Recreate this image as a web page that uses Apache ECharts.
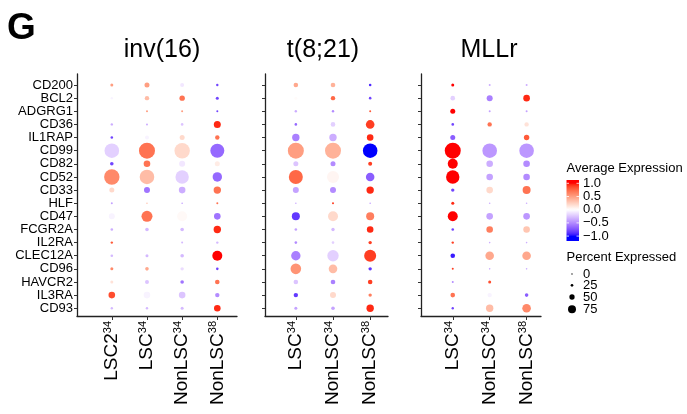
<!DOCTYPE html>
<html><head><meta charset="utf-8">
<script src="https://cdn.jsdelivr.net/npm/echarts@6/dist/echarts.min.js"></script>
<style>html,body{margin:0;padding:0;background:#fff}#c{width:687px;height:414px}</style>
</head><body><div id="c"></div>
<script>
// ---------- DATA ----------
const genes = ['CD200','BCL2','ADGRG1','CD36','IL1RAP','CD99','CD82','CD52','CD33','HLF','CD47','FCGR2A','IL2RA','CLEC12A','CD96','HAVCR2','IL3RA','CD93'];
const panelTitles = ['inv(16)', 't(8;21)', 'MLLr'];

const inv16Groups = [['LSC2','34'],['LSC','34'],['NonLSC','34'],['NonLSC','38']];
const t821Groups  = [['LSC','34'],['NonLSC','34'],['NonLSC','38']];
const mllrGroups  = [['LSC','34'],['NonLSC','34'],['NonLSC','38']];

// Average expression (scaled), one array per column, genes in order above
const inv16Avg = [
  [0.5,-0.05,0.0,-0.35,-0.8,-0.2,-0.8,0.6,0.2,-0.4,-0.05,-0.35,0.8,-0.3,0.6,0.15,0.85,-0.3],
  [0.5,0.35,0.5,-0.35,-0.05,0.7,0.7,0.35,-0.6,0.3,0.7,-0.3,0.0,-0.3,0.45,-0.25,-0.05,-0.3],
  [-0.1,0.7,0.5,-0.25,0.2,0.2,-0.1,-0.2,-0.35,-0.4,0.03,-0.3,-0.3,-0.3,-0.15,-0.6,-0.25,-0.3],
  [-0.8,-0.8,-0.8,0.95,0.7,-0.65,0.1,-0.65,0.7,0.7,-0.6,0.95,-0.3,1.0,-0.8,0.7,-0.5,0.95]
];
// Percent expressed
const inv16Pct = [
  [15,12,5,12,13,73,18,77,25,10,30,13,12,13,15,15,33,12],
  [25,22,10,10,20,80,33,73,30,8,55,18,3,15,18,20,33,12],
  [20,27,10,13,25,77,30,67,33,8,50,18,10,18,17,18,33,15],
  [12,15,10,35,22,70,25,47,37,10,33,37,12,50,13,23,22,33]
];

const t821Avg = [
  [0.45,0.02,-0.35,-0.65,-0.55,0.5,-0.25,0.75,-0.4,-0.35,-0.85,-0.4,-0.5,-0.55,0.55,-0.25,-0.85,-0.4],
  [0.4,0.75,-0.5,-0.2,-0.35,0.4,-0.5,0.05,-0.5,0.9,0.2,-0.3,-0.2,-0.2,0.35,-0.55,0.2,-0.4],
  [-0.9,-0.8,0.8,0.9,0.95,-1.0,0.9,-0.7,0.95,-0.4,0.65,0.95,0.9,0.9,-0.85,0.9,0.65,0.95]
];
const t821Pct = [
  [23,15,12,13,37,80,25,70,30,8,40,13,13,47,53,23,22,15],
  [23,22,12,23,37,80,25,60,30,10,50,17,13,57,43,23,30,18],
  [13,13,10,43,33,73,20,43,37,8,40,33,17,60,17,23,17,37]
];

const mllrAvg = [
  [1.0,-0.2,1.0,-0.8,-0.7,1.0,1.0,1.0,-0.8,0.95,1.0,-0.8,0.9,-0.95,0.9,-0.5,0.7,-0.8],
  [-0.35,-0.55,-0.4,0.7,0.0,-0.45,-0.35,-0.4,0.2,-0.35,-0.4,0.65,-0.35,0.45,-0.35,0.85,-0.05,0.35],
  [-0.35,0.95,-0.4,0.15,0.8,-0.45,-0.5,-0.5,0.7,-0.35,-0.45,0.3,-0.35,0.45,-0.35,0.0,-0.7,0.6]
];
const mllrPct = [
  [15,23,25,13,25,80,50,67,17,15,50,13,12,23,10,10,23,12],
  [10,30,10,22,25,73,33,33,33,8,33,33,8,43,8,15,22,37],
  [10,33,10,22,27,73,33,33,40,8,33,33,8,43,8,10,18,43]
];

const colorTicks = [1.0, 0.5, 0.0, -0.5, -1.0];
const colorTickLabels = ['1.0','0.5','0.0','\u22120.5','\u22121.0'];
const pctLegend = [0, 25, 50, 75];

// ---------- COLOR (Lab interpolation, blue - white - red) ----------
function s2l(c){c/=255;return c<=0.04045?c/12.92:Math.pow((c+0.055)/1.055,2.4);}
function l2s(c){c=c<=0.0031308?12.92*c:1.055*Math.pow(c,1/2.4)-0.055;return Math.round(Math.max(0,Math.min(1,c))*255);}
const Xn=0.95047,Yn=1,Zn=1.08883;
function ff(t){return t>0.008856?Math.cbrt(t):(7.787*t+16/116);}
function fi(t){const t3=t*t*t;return t3>0.008856?t3:(t-16/116)/7.787;}
function rgb2lab(c){const r=s2l(c[0]),g=s2l(c[1]),b=s2l(c[2]);
  const X=(0.4124*r+0.3576*g+0.1805*b)/Xn,Y=(0.2126*r+0.7152*g+0.0722*b)/Yn,Z=(0.0193*r+0.1192*g+0.9505*b)/Zn;
  const fx=ff(X),fy=ff(Y),fz=ff(Z);return [116*fy-16,500*(fx-fy),200*(fy-fz)];}
function lab2rgb(l){const fy=(l[0]+16)/116,fx=fy+l[1]/500,fz=fy-l[2]/200;
  const X=fi(fx)*Xn,Y=fi(fy)*Yn,Z=fi(fz)*Zn;
  return [l2s(3.2406*X-1.5372*Y-0.4986*Z),l2s(-0.9689*X+1.8758*Y+0.0415*Z),l2s(0.0557*X-0.2040*Y+1.0570*Z)];}
const LW=rgb2lab([255,255,255]),LB=rgb2lab([0,0,255]),LR=rgb2lab([255,0,0]);
function colorFor(v){v=Math.max(-1,Math.min(1,v));const t=Math.abs(v),T=v<0?LB:LR;
  const lab=[0,1,2].map(k=>LW[k]+t*(T[k]-LW[k]));const c=lab2rgb(lab);return 'rgb('+c.join(',')+')';}

// ---------- LAYOUT ----------
const FONT='"Liberation Sans", Arial, Helvetica, sans-serif';
const panels=[
  {groups:inv16Groups,avg:inv16Avg,pct:inv16Pct,left:77,width:160,min:-0.99,max:3.56,titleX:162},
  {groups:t821Groups,avg:t821Avg,pct:t821Pct,left:265,width:123,min:-0.83,max:2.48,titleX:323},
  {groups:mllrGroups,avg:mllrAvg,pct:mllrPct,left:421,width:120,min:-0.86,max:2.39,titleX:489}
];
const gridTop=74,gridH=242;
const geneIdx=genes.map((g,i)=>i);
const axisCol='#222';

const grid=[],xAxis=[],yAxis=[],series=[];
panels.forEach((p,pi)=>{
  grid.push({left:p.left,top:gridTop,width:p.width,height:gridH,containLabel:false});
  const colIdx=p.groups.map((g,i)=>i);
  xAxis.push({gridIndex:pi,type:'value',min:p.min,max:p.max,
    axisLine:{show:true,onZero:false,lineStyle:{color:axisCol,width:1.3}},
    axisTick:{show:true,customValues:colIdx,length:4,lineStyle:{color:'#333',width:1}},
    axisLabel:{show:true,customValues:colIdx,rotate:90,margin:5,
      formatter:v=>{const g=p.groups[Math.round(v)];return '{m|'+g[0]+'}{s|'+g[1]+'}';},
      rich:{m:{fontFamily:FONT,fontSize:19,color:'#000'},s:{fontFamily:FONT,fontSize:11,color:'#000',verticalAlign:'top'}}},
    splitLine:{show:false}});
  yAxis.push({gridIndex:pi,type:'value',inverse:true,min:-0.84,max:17.59,
    axisLine:{show:true,onZero:false,lineStyle:{color:axisCol,width:1.3}},
    axisTick:{show:true,customValues:geneIdx,length:3,lineStyle:{color:'#333',width:1}},
    axisLabel:{show:pi===0,customValues:geneIdx,margin:4,fontFamily:FONT,fontSize:13,color:'#000',
      formatter:v=>genes[Math.round(v)]},
    splitLine:{show:false}});
  const data=[];
  p.avg.forEach((col,ci)=>col.forEach((a,gi)=>data.push([ci,gi,a,p.pct[ci][gi]])));
  series.push({type:'scatter',xAxisIndex:pi,yAxisIndex:pi,data:data,
    symbolSize:d=>Math.max(0.6,d[3]*0.2),
    itemStyle:{color:prm=>colorFor(prm.data[2]),opacity:1},
    emphasis:{disabled:true},animation:false});
});

// ---------- GRAPHICS (titles, legends) ----------
const graphic=[];
graphic.push({type:'text',x:21.5,y:29,style:{text:'G',font:'bold 37px '+FONT,fill:'#000',align:'center',verticalAlign:'middle'}});
panels.forEach((p,pi)=>graphic.push({type:'text',x:p.titleX,y:50,style:{text:panelTitles[pi],font:'25px '+FONT,fill:'#000',align:'center',verticalAlign:'middle'}}));
graphic.push({type:'text',x:566.5,y:168.5,style:{text:'Average Expression',font:'13px '+FONT,fill:'#000',align:'left',verticalAlign:'middle'}});
// colour bar
const barTop=180,barH=61,barX=566.5,barW=12.5,midY=209.7,half=26.4;
const stops=[];
for(let k=0;k<=40;k++){const o=k/40;const y=barTop+o*barH;const v=(midY-y)/half;stops.push({offset:o,color:colorFor(v)});}
graphic.push({type:'rect',shape:{x:barX,y:barTop,width:barW,height:barH},style:{fill:{type:'linear',x:0,y:0,x2:0,y2:1,colorStops:stops}}});
colorTicks.forEach((v,i)=>{
  const y=midY-v*half;
  graphic.push({type:'line',shape:{x1:barX,y1:y,x2:barX+2.5,y2:y},style:{stroke:'#fff',lineWidth:0.8}});
  graphic.push({type:'line',shape:{x1:barX+barW-2.5,y1:y,x2:barX+barW,y2:y},style:{stroke:'#fff',lineWidth:0.8}});
  graphic.push({type:'text',x:583,y:y,style:{text:colorTickLabels[i],font:'13px '+FONT,fill:'#000',align:'left',verticalAlign:'middle'}});
});
graphic.push({type:'text',x:566.5,y:257.5,style:{text:'Percent Expressed',font:'13px '+FONT,fill:'#000',align:'left',verticalAlign:'middle'}});
const legY=[274,285.3,297,309.3];
pctLegend.forEach((v,i)=>{
  graphic.push({type:'circle',shape:{cx:572,cy:legY[i],r:Math.max(0.65,v*0.053)},style:{fill:'#000'}});
  graphic.push({type:'text',x:583,y:legY[i],style:{text:String(v),font:'13px '+FONT,fill:'#000',align:'left',verticalAlign:'middle'}});
});

const chart=echarts.init(document.getElementById('c'),null,{renderer:'canvas'});
chart.setOption({backgroundColor:'#fff',animation:false,textStyle:{fontFamily:FONT},grid,xAxis,yAxis,series,graphic});
</script></body></html>
